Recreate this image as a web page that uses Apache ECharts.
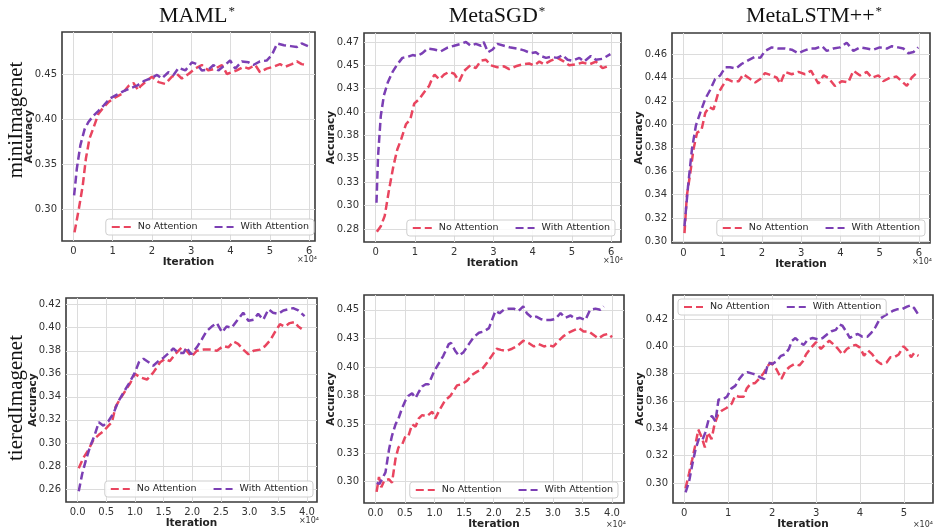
<!DOCTYPE html>
<html><head><meta charset="utf-8">
<script src="https://cdn.jsdelivr.net/npm/echarts@6/dist/echarts.min.js"></script>
<style>html,body{margin:0;padding:0;background:#fff}#c{width:934px;height:531px}</style>
</head><body><div id="c"></div>
<script>
// ---------- DATA (x in units of 10^4 iterations, y = accuracy) ----------
const seriesNames = ['No Attention', 'With Attention'];
const methodTitles = ['MAML', 'MetaSGD', 'MetaLSTM++'];
const datasetLabels = ['miniImagenet', 'tieredImagenet'];
// tick labels as printed in the figure for the 0.025-step axes
const miniSGDYLabels = ['0.28', '0.30', '0.33', '0.35', '0.38', '0.40', '0.43', '0.45', '0.47'];
const tierSGDYLabels = ['0.30', '0.33', '0.35', '0.38', '0.40', '0.43', '0.45'];

const miniMAMLNo = [[0.03,0.274],[0.14,0.300],[0.24,0.326],[0.32,0.356],[0.41,0.378],[0.52,0.391],[0.64,0.406],[0.77,0.413],[0.90,0.419],[1.07,0.424],[1.24,0.428],[1.41,0.437],[1.53,0.440],[1.65,0.432],[1.70,0.436],[1.83,0.441],[2.0,0.447],[2.17,0.441],[2.34,0.439],[2.51,0.447],[2.64,0.450],[2.76,0.445],[2.93,0.450],[3.10,0.456],[3.27,0.460],[3.44,0.454],[3.61,0.456],[3.78,0.460],[3.91,0.450],[4.03,0.452],[4.16,0.454],[4.33,0.458],[4.46,0.456],[4.63,0.460],[4.75,0.452],[4.92,0.456],[5.09,0.458],[5.26,0.461],[5.39,0.458],[5.56,0.461],[5.69,0.464],[5.81,0.461],[5.94,0.460]];
const miniMAMLWith = [[0.02,0.315],[0.09,0.345],[0.18,0.371],[0.29,0.389],[0.39,0.397],[0.52,0.404],[0.64,0.409],[0.77,0.415],[0.94,0.423],[1.11,0.427],[1.28,0.431],[1.45,0.434],[1.62,0.437],[1.79,0.442],[1.96,0.445],[2.13,0.449],[2.25,0.445],[2.42,0.452],[2.55,0.449],[2.68,0.457],[2.85,0.454],[3.02,0.463],[3.14,0.461],[3.27,0.454],[3.44,0.455],[3.57,0.460],[3.69,0.454],[3.86,0.460],[3.99,0.465],[4.12,0.456],[4.29,0.464],[4.46,0.463],[4.58,0.460],[4.75,0.464],[4.92,0.465],[5.05,0.471],[5.19,0.484],[5.36,0.482],[5.53,0.481],[5.69,0.480],[5.81,0.484],[5.97,0.481]];

const miniSGDNo = [[0.03,0.272],[0.13,0.278],[0.23,0.289],[0.34,0.317],[0.45,0.342],[0.55,0.360],[0.65,0.371],[0.77,0.387],[0.88,0.392],[0.98,0.409],[1.11,0.414],[1.23,0.421],[1.36,0.428],[1.45,0.437],[1.50,0.440],[1.62,0.435],[1.74,0.440],[1.87,0.443],[2.0,0.441],[2.13,0.433],[2.25,0.444],[2.41,0.450],[2.55,0.447],[2.68,0.455],[2.81,0.456],[2.93,0.450],[3.10,0.448],[3.27,0.449],[3.40,0.446],[3.57,0.449],[3.74,0.451],[3.91,0.452],[4.04,0.450],[4.17,0.454],[4.29,0.451],[4.46,0.455],[4.63,0.458],[4.80,0.454],[4.93,0.450],[5.10,0.451],[5.27,0.453],[5.44,0.451],[5.61,0.454],[5.78,0.447],[5.98,0.450]];
const miniSGDWith = [[0.02,0.303],[0.06,0.353],[0.13,0.396],[0.21,0.418],[0.31,0.432],[0.43,0.443],[0.55,0.451],[0.68,0.458],[0.81,0.459],[0.94,0.461],[1.06,0.460],[1.19,0.463],[1.32,0.468],[1.49,0.467],[1.66,0.465],[1.83,0.469],[2.0,0.471],[2.17,0.473],[2.30,0.475],[2.42,0.471],[2.55,0.473],[2.68,0.471],[2.75,0.475],[2.86,0.464],[2.98,0.467],[3.10,0.473],[3.27,0.471],[3.44,0.469],[3.61,0.468],[3.78,0.466],[3.95,0.463],[4.08,0.464],[4.21,0.460],[4.34,0.458],[4.46,0.459],[4.63,0.458],[4.76,0.461],[4.89,0.456],[5.02,0.455],[5.19,0.458],[5.31,0.454],[5.48,0.460],[5.61,0.456],[5.78,0.457],[5.98,0.462]];

const miniLSTMNo = [[0.03,0.307],[0.09,0.339],[0.18,0.359],[0.26,0.379],[0.35,0.393],[0.46,0.395],[0.56,0.410],[0.66,0.415],[0.77,0.413],[0.88,0.426],[0.98,0.432],[1.11,0.439],[1.24,0.437],[1.41,0.437],[1.53,0.443],[1.66,0.440],[1.83,0.436],[1.96,0.439],[2.08,0.444],[2.25,0.442],[2.38,0.440],[2.47,0.435],[2.59,0.445],[2.76,0.443],[2.93,0.445],[3.10,0.443],[3.25,0.446],[3.44,0.435],[3.57,0.442],[3.69,0.440],[3.86,0.433],[4.03,0.437],[4.20,0.436],[4.33,0.446],[4.50,0.442],[4.67,0.445],[4.80,0.440],[4.97,0.442],[5.09,0.437],[5.26,0.440],[5.43,0.441],[5.56,0.437],[5.69,0.433],[5.81,0.440],[5.97,0.445]];
const miniLSTMWith = [[0.03,0.313],[0.12,0.347],[0.22,0.379],[0.32,0.399],[0.43,0.410],[0.56,0.422],[0.69,0.430],[0.81,0.439],[0.94,0.442],[1.07,0.449],[1.19,0.449],[1.34,0.448],[1.49,0.452],[1.66,0.455],[1.83,0.458],[1.96,0.457],[2.08,0.463],[2.25,0.466],[2.42,0.465],[2.59,0.465],[2.76,0.464],[2.93,0.461],[3.06,0.463],[3.23,0.465],[3.36,0.465],[3.53,0.467],[3.65,0.463],[3.82,0.465],[3.99,0.466],[4.16,0.470],[4.33,0.463],[4.50,0.466],[4.67,0.465],[4.84,0.464],[5.00,0.466],[5.18,0.465],[5.31,0.467],[5.47,0.466],[5.60,0.465],[5.73,0.461],[5.86,0.462],[5.98,0.466]];

const tierMAMLNo = [[0.02,0.278],[0.10,0.287],[0.19,0.294],[0.28,0.303],[0.37,0.307],[0.45,0.310],[0.54,0.315],[0.60,0.318],[0.66,0.331],[0.74,0.338],[0.83,0.345],[0.92,0.352],[1.00,0.360],[1.09,0.357],[1.21,0.355],[1.32,0.361],[1.44,0.370],[1.53,0.373],[1.61,0.371],[1.70,0.377],[1.82,0.383],[1.90,0.380],[1.99,0.375],[2.08,0.380],[2.20,0.381],[2.31,0.381],[2.43,0.380],[2.54,0.384],[2.63,0.383],[2.72,0.388],[2.80,0.386],[2.89,0.381],[2.98,0.377],[3.07,0.380],[3.18,0.381],[3.27,0.384],[3.36,0.389],[3.44,0.396],[3.53,0.403],[3.62,0.401],[3.70,0.404],[3.79,0.405],[3.85,0.401],[3.91,0.399]];
const tierMAMLWith = [[0.02,0.258],[0.08,0.273],[0.15,0.286],[0.22,0.297],[0.30,0.307],[0.37,0.318],[0.45,0.315],[0.54,0.319],[0.63,0.326],[0.70,0.335],[0.78,0.342],[0.89,0.351],[1.00,0.361],[1.07,0.370],[1.15,0.373],[1.24,0.370],[1.32,0.367],[1.41,0.371],[1.50,0.374],[1.59,0.378],[1.67,0.382],[1.76,0.378],[1.85,0.378],[1.90,0.383],[1.98,0.377],[2.08,0.383],[2.17,0.390],[2.25,0.397],[2.34,0.401],[2.43,0.404],[2.52,0.396],[2.60,0.401],[2.69,0.400],[2.78,0.406],[2.89,0.413],[2.98,0.406],[3.07,0.407],[3.15,0.412],[3.24,0.407],[3.33,0.416],[3.41,0.413],[3.50,0.412],[3.59,0.415],[3.68,0.416],[3.76,0.417],[3.85,0.415],[3.96,0.410]];

const tierSGDNo = [[0.02,0.291],[0.06,0.304],[0.10,0.295],[0.15,0.301],[0.23,0.302],[0.28,0.299],[0.34,0.320],[0.39,0.330],[0.45,0.332],[0.51,0.340],[0.56,0.340],[0.62,0.350],[0.68,0.348],[0.73,0.355],[0.79,0.358],[0.87,0.357],[0.96,0.361],[1.01,0.355],[1.10,0.364],[1.18,0.371],[1.27,0.375],[1.38,0.384],[1.46,0.385],[1.55,0.388],[1.63,0.393],[1.72,0.396],[1.80,0.398],[1.89,0.404],[1.97,0.410],[2.05,0.416],[2.12,0.415],[2.21,0.414],[2.31,0.416],[2.39,0.418],[2.50,0.423],[2.59,0.421],[2.68,0.418],[2.76,0.420],[2.85,0.418],[2.93,0.419],[3.01,0.418],[3.10,0.423],[3.18,0.427],[3.27,0.430],[3.35,0.432],[3.44,0.434],[3.52,0.431],[3.61,0.431],[3.69,0.428],[3.77,0.425],[3.86,0.428],[3.94,0.429],[4.00,0.426]];
const tierSGDWith = [[0.02,0.299],[0.07,0.298],[0.11,0.302],[0.17,0.308],[0.23,0.328],[0.28,0.340],[0.34,0.350],[0.39,0.355],[0.45,0.364],[0.51,0.371],[0.56,0.375],[0.62,0.377],[0.68,0.373],[0.73,0.378],[0.79,0.383],[0.85,0.385],[0.90,0.385],[0.99,0.396],[1.07,0.403],[1.15,0.410],[1.24,0.420],[1.28,0.421],[1.35,0.414],[1.41,0.410],[1.49,0.413],[1.58,0.420],[1.66,0.426],[1.75,0.430],[1.83,0.431],[1.92,0.434],[1.97,0.441],[2.03,0.449],[2.10,0.447],[2.17,0.450],[2.25,0.451],[2.34,0.451],[2.42,0.449],[2.50,0.453],[2.56,0.447],[2.65,0.443],[2.72,0.444],[2.79,0.442],[2.87,0.441],[2.96,0.441],[3.04,0.442],[3.13,0.447],[3.21,0.443],[3.30,0.445],[3.38,0.442],[3.46,0.443],[3.55,0.441],[3.63,0.450],[3.72,0.451],[3.80,0.450],[3.86,0.453]];

const tierLSTMNo = [[0.03,0.296],[0.11,0.307],[0.18,0.317],[0.26,0.329],[0.32,0.339],[0.39,0.334],[0.47,0.326],[0.54,0.337],[0.62,0.332],[0.69,0.343],[0.77,0.350],[0.86,0.353],[0.97,0.355],[1.08,0.358],[1.16,0.364],[1.25,0.363],[1.35,0.363],[1.42,0.369],[1.52,0.373],[1.61,0.373],[1.70,0.376],[1.80,0.380],[1.91,0.386],[1.98,0.388],[2.10,0.383],[2.21,0.376],[2.30,0.382],[2.40,0.385],[2.51,0.387],[2.62,0.386],[2.70,0.389],[2.77,0.394],[2.89,0.399],[3.00,0.403],[3.11,0.398],[3.20,0.401],[3.30,0.404],[3.41,0.401],[3.50,0.398],[3.60,0.394],[3.70,0.398],[3.80,0.400],[3.90,0.401],[4.00,0.399],[4.09,0.393],[4.18,0.397],[4.28,0.394],[4.39,0.389],[4.48,0.387],[4.60,0.388],[4.69,0.392],[4.78,0.392],[4.88,0.394],[4.99,0.400],[5.08,0.397],[5.16,0.392],[5.23,0.395],[5.33,0.393]];
const tierLSTMWith = [[0.03,0.293],[0.11,0.301],[0.18,0.313],[0.26,0.325],[0.33,0.332],[0.41,0.331],[0.48,0.337],[0.56,0.347],[0.63,0.349],[0.71,0.345],[0.78,0.361],[0.87,0.361],[0.97,0.363],[1.07,0.369],[1.16,0.371],[1.25,0.376],[1.35,0.380],[1.44,0.381],[1.55,0.380],[1.65,0.379],[1.74,0.377],[1.82,0.376],[1.91,0.388],[2.00,0.387],[2.10,0.389],[2.20,0.393],[2.29,0.394],[2.38,0.398],[2.45,0.404],[2.53,0.406],[2.62,0.403],[2.72,0.401],[2.81,0.405],[2.92,0.406],[3.04,0.405],[3.15,0.406],[3.26,0.409],[3.35,0.411],[3.45,0.412],[3.53,0.416],[3.60,0.415],[3.68,0.411],[3.77,0.406],[3.86,0.408],[3.95,0.409],[4.05,0.407],[4.17,0.407],[4.26,0.410],[4.35,0.414],[4.45,0.420],[4.54,0.422],[4.65,0.424],[4.75,0.426],[4.84,0.427],[4.95,0.427],[5.07,0.429],[5.16,0.430],[5.23,0.428],[5.33,0.423]];

// ---------- LAYOUT / STYLE ----------
const COLORS = ['#e9455f', '#7b3fb4'];
const SANS = 'DejaVu Sans';
const SERIF = 'Liberation Serif';
const panels = [
  {no: miniMAMLNo, wi: miniMAMLWith, box: [62, 32, 253, 209], x: [-0.288, 6.15, 1, 0], y: [0.2644, 0.4967, 0.05], legend: {right: 620, top: 219}},
  {no: miniSGDNo, wi: miniSGDWith, box: [364, 33, 257, 209], x: [-0.298, 6.25, 1, 0], y: [0.2611, 0.4846, 0.025], yLabels: miniSGDYLabels, yFirst: 0.275, legend: {right: 319, top: 220}},
  {no: miniLSTMNo, wi: miniLSTMWith, box: [672, 33, 258, 210], x: [-0.288, 6.28, 1, 0], y: [0.2986, 0.4783, 0.02], legend: {right: 9, top: 220}},
  {no: tierMAMLNo, wi: tierMAMLWith, box: [66, 298, 251, 204], x: [-0.202, 4.177, 0.5, 1], y: [0.2487, 0.4258, 0.02], legend: {right: 621, top: 481}},
  {no: tierSGDNo, wi: tierSGDWith, box: [364, 295, 260, 211], x: [-0.193, 4.203, 0.5, 1], y: [0.2813, 0.4629, 0.025], yLabels: tierSGDYLabels, yFirst: 0.30, legend: {right: 316, top: 482}},
  {no: tierLSTMNo, wi: tierLSTMWith, box: [673, 295, 260, 211], x: [-0.256, 5.66, 1, 0], y: [0.2853, 0.4375, 0.02], legend: {left: 678, top: 299}}
];
const titleCenters = [192, 492, 809];
const rowCenters = [120, 398];

const fmt2 = v => (Math.round(v * 100 + 1e-6) / 100).toFixed(2);
const yFormatter = p => v => {
  if (p.yLabels) {
    const k = Math.round((v - p.yFirst) / p.y[2]);
    if (p.yLabels[k] !== undefined) return p.yLabels[k];
  }
  return fmt2(v);
};

const option = {
  animation: false,
  backgroundColor: '#fff',
  title: methodTitles.map((t, i) => ({
    text: '{m|' + t + '}{s|*}', left: titleCenters[i], top: 0, textAlign: 'center',
    textStyle: {fontWeight: 'normal', rich: {
      m: {fontFamily: SERIF, fontSize: 22, fontWeight: 'normal', color: '#111'},
      s: {fontFamily: SERIF, fontSize: 13, fontWeight: 'normal', color: '#111', verticalAlign: 'top', padding: [0, 0, 9, 1]}
    }}
  })),
  grid: panels.map(p => ({left: p.box[0], top: p.box[1], width: p.box[2], height: p.box[3],
    show: true, borderColor: '#3a3a3a', borderWidth: 1.6, backgroundColor: '#fff'})),
  xAxis: panels.map((p, i) => ({
    type: 'value', gridIndex: i, min: p.x[0], max: p.x[1],
    minInterval: p.x[2], maxInterval: p.x[2], splitNumber: Math.round((p.x[1] - p.x[0]) / p.x[2]),
    axisLine: {show: false}, axisTick: {show: false},
    splitLine: {show: true, showMinLine: false, showMaxLine: false, lineStyle: {color: '#dcdcdc', width: 1}},
    axisLabel: {showMinLabel: false, showMaxLabel: false, formatter: v => v.toFixed(p.x[3]),
      fontSize: 10, color: '#333', margin: 5, fontFamily: SANS},
    name: 'Iteration', nameLocation: 'middle', nameGap: 16, nameMoveOverlap: false,
    nameTextStyle: {fontFamily: SANS, fontWeight: 'bold', fontSize: 10.5, color: '#222'}
  })),
  yAxis: panels.map((p, i) => ({
    type: 'value', gridIndex: i, min: p.y[0], max: p.y[1],
    minInterval: p.y[2], maxInterval: p.y[2], splitNumber: Math.round((p.y[1] - p.y[0]) / p.y[2]),
    axisLine: {show: false}, axisTick: {show: false},
    splitLine: {show: true, showMinLine: false, showMaxLine: false, lineStyle: {color: '#dcdcdc', width: 1}},
    axisLabel: {showMinLabel: false, showMaxLabel: false, formatter: yFormatter(p),
      fontSize: 10, color: '#333', margin: 5, fontFamily: SANS},
    name: 'Accuracy', nameLocation: 'middle', nameGap: 27, nameMoveOverlap: false,
    nameTextStyle: {fontFamily: SANS, fontWeight: 'bold', fontSize: 10.5, color: '#222'}
  })),
  legend: panels.map(p => Object.assign({
    data: seriesNames, orient: 'horizontal', itemWidth: 19, itemHeight: 10, itemGap: 16,
    padding: [3, 5, 3, 5], borderColor: '#cfcfcf', borderWidth: 1, borderRadius: 3,
    backgroundColor: 'rgba(255,255,255,0.85)',
    itemStyle: {opacity: 0},
    textStyle: {fontSize: 9.5, color: '#262626', fontFamily: SANS, padding: [0, 0, 0, 2]}
  }, p.legend)),
  series: [],
  graphic: []
};

panels.forEach((p, i) => {
  [p.no, p.wi].forEach((d, k) => {
    option.series.push({
      type: 'line', name: seriesNames[k], xAxisIndex: i, yAxisIndex: i, data: d,
      showSymbol: false, symbol: 'none', z: 2 + k,
      lineStyle: {color: COLORS[k], width: 2.5, type: [8, 4]}, itemStyle: {color: COLORS[k]}
    });
  });
  option.graphic.push({
    type: 'text', x: Math.min(p.box[0] + p.box[2] + 2, 933), y: p.box[1] + p.box[3] + 19,
    style: {text: '×10⁴', font: '8px "DejaVu Sans"', fill: '#333', align: 'right', verticalAlign: 'middle'}
  });
});
datasetLabels.forEach((t, r) => {
  option.graphic.push({
    type: 'text', x: 16, y: rowCenters[r], rotation: Math.PI / 2,
    style: {text: t, font: '21px "Liberation Serif"', fill: '#111', align: 'center', verticalAlign: 'middle'}
  });
});

const chart = echarts.init(document.getElementById('c'), null, {renderer: 'canvas'});
chart.setOption(option);
</script>
</body></html>
